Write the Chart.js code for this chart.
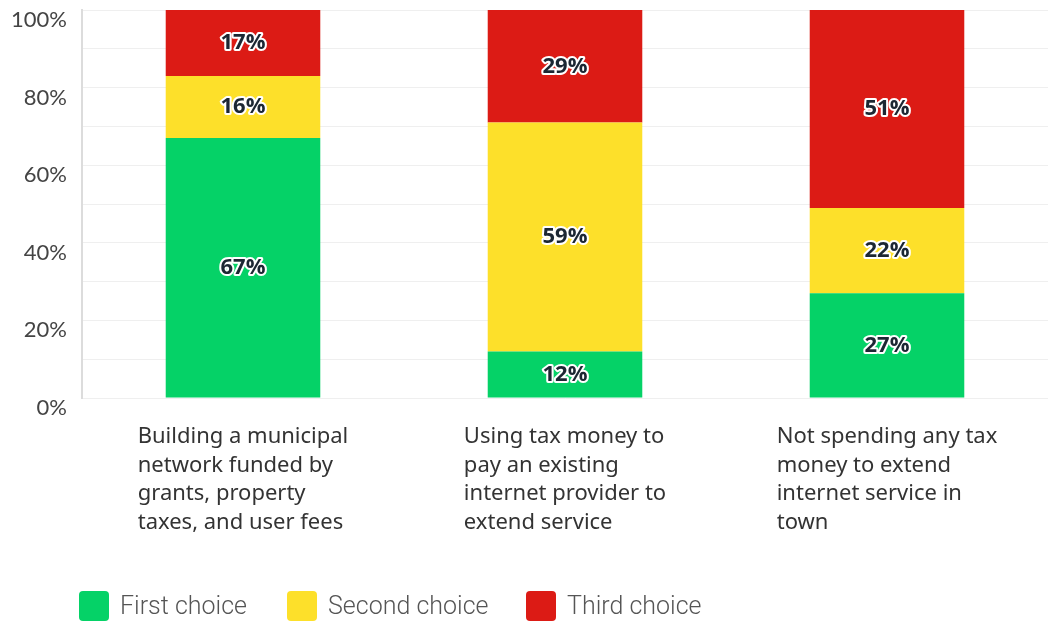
<!DOCTYPE html>
<html>
<head>
<meta charset="utf-8">
<script src="https://cdn.jsdelivr.net/npm/chart.js@4"></script>
<style>
  html, body { margin: 0; padding: 0; background: #fff; }
  #wrap { width: 1048px; height: 621px; position: relative; }
</style>
</head>
<body>
<div id="wrap"><canvas id="chart"></canvas></div>
<script>
  // カテゴリ（複数行ラベル）
  var categories = [
    ['Building a municipal', 'network funded by', 'grants, property', 'taxes, and user fees'],
    ['Using tax money to', 'pay an existing', 'internet provider to', 'extend service'],
    ['Not spending any tax', 'money to extend', 'internet service in', 'town']
  ];
  var seriesNames = ['First choice', 'Second choice', 'Third choice'];
  var seriesColors = ['#05d267', '#fde02a', '#dc1b15'];
  var firstChoice = [67, 12, 27];
  var secondChoice = [16, 59, 22];
  var thirdChoice = [17, 29, 51];
  var yTicks = [0, 20, 40, 60, 80, 100];

  var seriesValues = [firstChoice, secondChoice, thirdChoice];

  // 棒の中のラベル（白い縁取り付き）
  var barLabels = {
    id: 'barLabels',
    afterDatasetsDraw: function(chart) {
      var ctx = chart.ctx;
      ctx.save();
      ctx.font = 'bold 22px "Open Sans", sans-serif';
      ctx.textAlign = 'center';
      ctx.textBaseline = 'middle';
      ctx.lineJoin = 'round';
      chart.data.datasets.forEach(function(ds, di) {
        var meta = chart.getDatasetMeta(di);
        meta.data.forEach(function(bar, i) {
          var txt = ds.data[i] + '%';
          var cy = (bar.y + bar.base) / 2;
          ctx.lineWidth = 4;
          ctx.strokeStyle = '#fff';
          ctx.strokeText(txt, bar.x, cy);
          ctx.fillStyle = '#1c2733';
          ctx.fillText(txt, bar.x, cy);
        });
      });
      ctx.restore();
    }
  };

  // X軸ラベル（左揃えブロックを中央配置）と凡例
  var bottomText = {
    id: 'bottomText',
    afterDraw: function(chart) {
      var ctx = chart.ctx;
      var xs = chart.scales.x;
      var area = chart.chartArea;
      ctx.save();
      ctx.font = '22px "Noto Sans", sans-serif';
      ctx.fillStyle = '#333';
      ctx.textAlign = 'left';
      ctx.textBaseline = 'middle';
      categories.forEach(function(lines, i) {
        var cx = xs.getPixelForValue(i);
        var w = 0;
        lines.forEach(function(l) { w = Math.max(w, ctx.measureText(l).width); });
        var left = cx - w / 2;
        lines.forEach(function(l, k) {
          ctx.fillText(l, left, area.bottom + 39 + k * 28.5);
        });
      });

      // 凡例
      var legendX = [79, 287, 526];
      ctx.font = '300 25px Roboto, sans-serif';
      seriesNames.forEach(function(name, i) {
        var x = legendX[i];
        ctx.fillStyle = seriesColors[i];
        ctx.beginPath();
        ctx.roundRect(x, 591, 30, 30, 4);
        ctx.fill();
        ctx.fillStyle = '#555';
        ctx.fillText(name, x + 41, 608);
      });
      ctx.restore();
    }
  };

  var datasets = seriesNames.map(function(name, i) {
    return {
      label: name,
      data: seriesValues[i],
      backgroundColor: seriesColors[i],
      borderWidth: 0,
      barPercentage: 0.48,
      categoryPercentage: 1.0
    };
  });

  new Chart(document.getElementById('chart'), {
    type: 'bar',
    data: {
      labels: categories.map(function(c) { return c.join(' '); }),
      datasets: datasets
    },
    options: {
      responsive: true,
      maintainAspectRatio: false,
      animation: false,
      layout: { padding: { top: 10, right: 0, bottom: 215, left: 0 } },
      plugins: {
        legend: { display: false },
        tooltip: { enabled: false }
      },
      scales: {
        x: {
          stacked: true,
          grid: { display: false },
          border: { display: false },
          ticks: { display: false }
        },
        y: {
          stacked: true,
          min: 0,
          max: 100,
          afterFit: function(scale) {
            scale.width = 82;
            scale.paddingTop = 0;
          },
          grid: { color: '#efefef', drawTicks: false },
          border: { color: '#dcdcdc', width: 2 },
          ticks: {
            stepSize: 10,
            padding: 15,
            labelOffset: 10,
            color: '#444',
            font: { size: 22, family: 'Lato, sans-serif', lineHeight: 0.05 },
            callback: function(v) { return yTicks.indexOf(v) >= 0 ? v + '%' : ''; }
          }
        }
      }
    },
    plugins: [barLabels, bottomText]
  });
</script>
</body>
</html>
